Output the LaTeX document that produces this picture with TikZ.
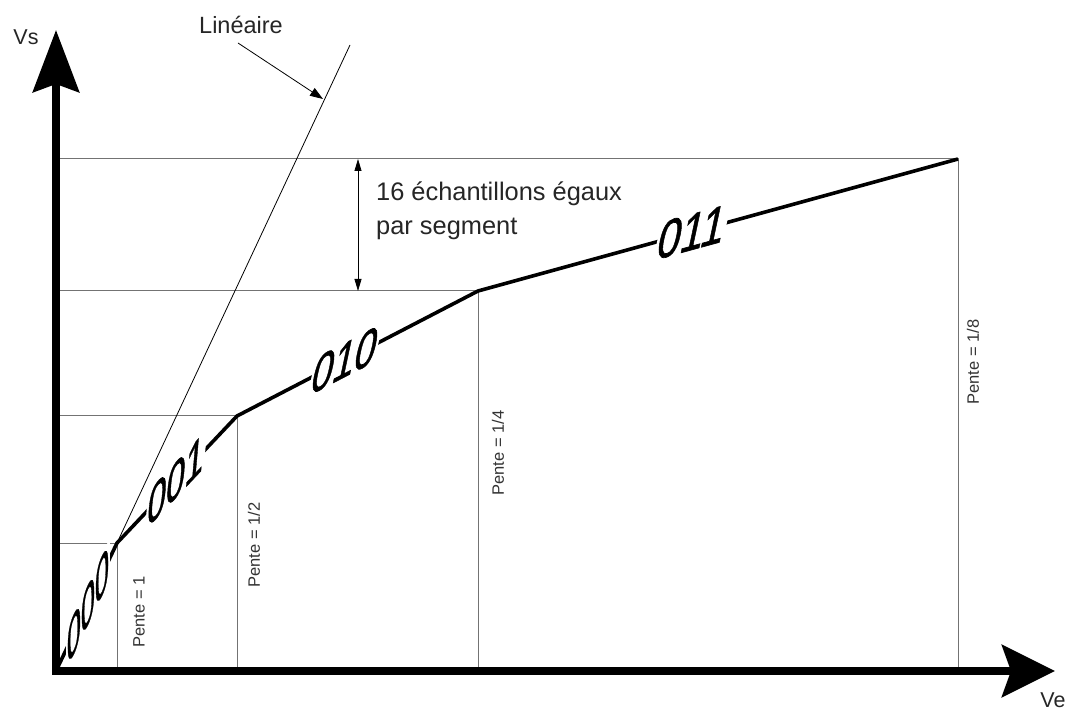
\documentclass[tikz,border=0pt]{standalone}
\usepackage{fontspec}
\setmainfont{Liberation Sans}
\newfontface\seglabfont{Liberation Sans}[FakeBold=1.2]
\usetikzlibrary{arrows.meta}
\begin{document}
\begin{tikzpicture}[x=1pt,y=-1pt,
  axisline/.style={line width=8pt,line join=miter,
    {Stealth[length=62pt,width=46pt,inset=8pt]}-{Stealth[length=53pt,width=52pt,inset=9pt]}},
  guide/.style={line width=1pt,draw=black!55},
  curve/.style={line width=3.6pt,line join=round},
  seglab/.style={font=\seglabfont\fontsize{58}{58}\selectfont,fill=white,inner sep=2pt},
  pente/.style={font=\fontsize{16.5}{16.5}\selectfont,text=black!80,rotate=90,inner sep=0pt},
  bigtxt/.style={text=black!85,inner sep=0pt}]
\useasboundingbox (0,0) rectangle (1069,711);
\fill[white] (0,0) rectangle (1069,711);
% key points
\coordinate (O) at (56,671);
\coordinate (ytip) at (56,30);
\coordinate (xtip) at (1055,671);
\coordinate (P1) at (117,543);
\coordinate (P2) at (237,416);
\coordinate (P3) at (478,291);
\coordinate (P4) at (958,159);
\coordinate (Y1) at (56,543);
\coordinate (Y2) at (56,416);
\coordinate (Y3) at (56,291);
\coordinate (Y4) at (56,159);
\coordinate (X1) at (117,671);
\coordinate (X2) at (237,671);
\coordinate (X3) at (478,671);
\coordinate (X4) at (958,671);
\coordinate (Ltop) at (350,45);
\coordinate (Lpt) at (323,99);
\coordinate (Lfrom) at (238,43);
\coordinate (Dtop) at (358,159);
\coordinate (Dbot) at (358,291);
% guide lines
\draw[guide] (Y1) -- (P1) -- (X1);
\draw[guide] (Y2) -- (P2) -- (X2);
\draw[guide] (Y3) -- (P3) -- (X3);
\draw[guide] (Y4) -- (P4) -- (X4);
% linear reference line
\draw[line width=0.8pt] (P1) -- (Ltop);
\draw[line width=0.8pt,-{Triangle[length=13pt,width=9pt]}] (Lfrom) -- (Lpt);
\node[bigtxt,font=\fontsize{23.5}{23.5}\selectfont] (lin) at (241,25) {Linéaire};
% double arrow
\draw[line width=0.8pt,{Triangle[length=12pt,width=7pt]}-{Triangle[length=12pt,width=7pt]}] (Dtop) -- (Dbot);
\node[bigtxt,font=\fontsize{25.4}{34}\selectfont,align=left,anchor=north west] (ech) at (376,182) {16 échantillons égaux\\par segment};
% curve
\draw[curve] (O) -- (P1) -- (P2) -- (P3) -- (P4);
% segment labels
\node[seglab,cm={0.435,0.900,0,0.97,(0,0)}] (s0) at (88,605) {000};
\node[seglab,cm={0.584,0.618,0.084,0.966,(0,0)}] (s1) at (176,480) {001};
\node[seglab,cm={0.666,0.345,0.202,0.949,(0,0)}] (s2) at (345,360) {010};
\node[seglab,cm={0.724,0.198,0.202,0.949,(0,0)}] (s3) at (692,232) {011};
% axes
\draw[axisline] (ytip) -- (O) -- (xtip);
\node[bigtxt,font=\fontsize{21.5}{21.5}\selectfont] (vs) at (26,37) {Vs};
\node[bigtxt,font=\fontsize{21.5}{21.5}\selectfont] (ve) at (1053,700) {Ve};
% slope labels
\node[pente] (p1) at (139,612) {Pente = 1};
\node[pente] (p2) at (254,545) {Pente = 1/2};
\node[pente] (p3) at (498,453) {Pente = 1/4};
\node[pente] (p4) at (973,362) {Pente = 1/8};
\end{tikzpicture}
\end{document}
